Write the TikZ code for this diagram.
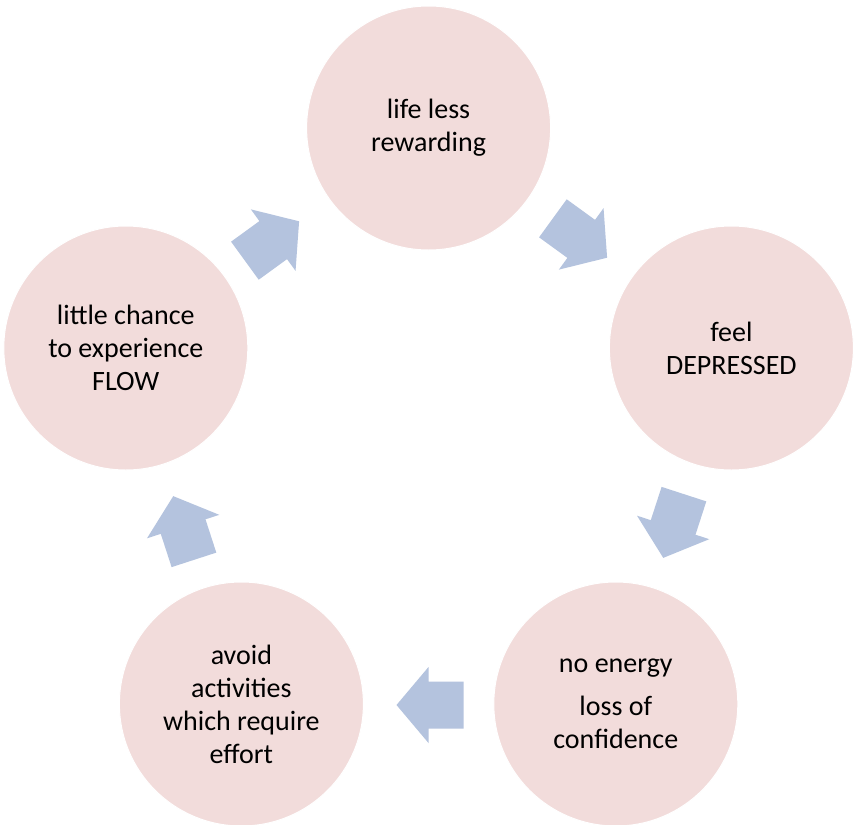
\documentclass[tikz,border=0pt]{standalone}
\usepackage{fontspec}
\setmainfont{Carlito}
\definecolor{circfill}{HTML}{F2DCDB}
\definecolor{arrfill}{HTML}{B4C3DE}
\begin{document}
\begin{tikzpicture}[x=1pt,y=1pt,
  stage/.style={circle, fill=circfill, draw=white, line width=1pt, minimum size=244pt,
    inner sep=0pt, align=center, font=\fontsize{28}{33}\selectfont, text=black},
  cyclearrow/.style={fill=arrfill}]
\useasboundingbox (0,0) rectangle (855,-825);
\fill[white] (0,0) rectangle (855,-825);
\node[stage] (top) at (428.6,-128) {life less\\rewarding};
\node[stage] (right) at (731.4,-348) {feel\\DEPRESSED};
\node[stage] (bright) at (615.8,-704) {no energy\\[10pt]loss of\\confidence};
\node[stage] (bleft) at (241.4,-704) {avoid\\activities\\which require\\effort};
\node[stage] (left) at (125.8,-348) {little chance\\to experience\\FLOW};
\foreach \cx/\cy/\ang in {580/-238/-36, 673.6/-526/-108, 430/-705/180, 183.6/-528/108, 272/-241/36}{
  \fill[cyclearrow, shift={(\cx,\cy)}, rotate=\ang]
    (-33.5,-23.5) -- (1.5,-23.5) -- (1.5,-38) -- (33.5,0) -- (1.5,38) -- (1.5,23.5) -- (-33.5,23.5) -- cycle;
}
\end{tikzpicture}
\end{document}
